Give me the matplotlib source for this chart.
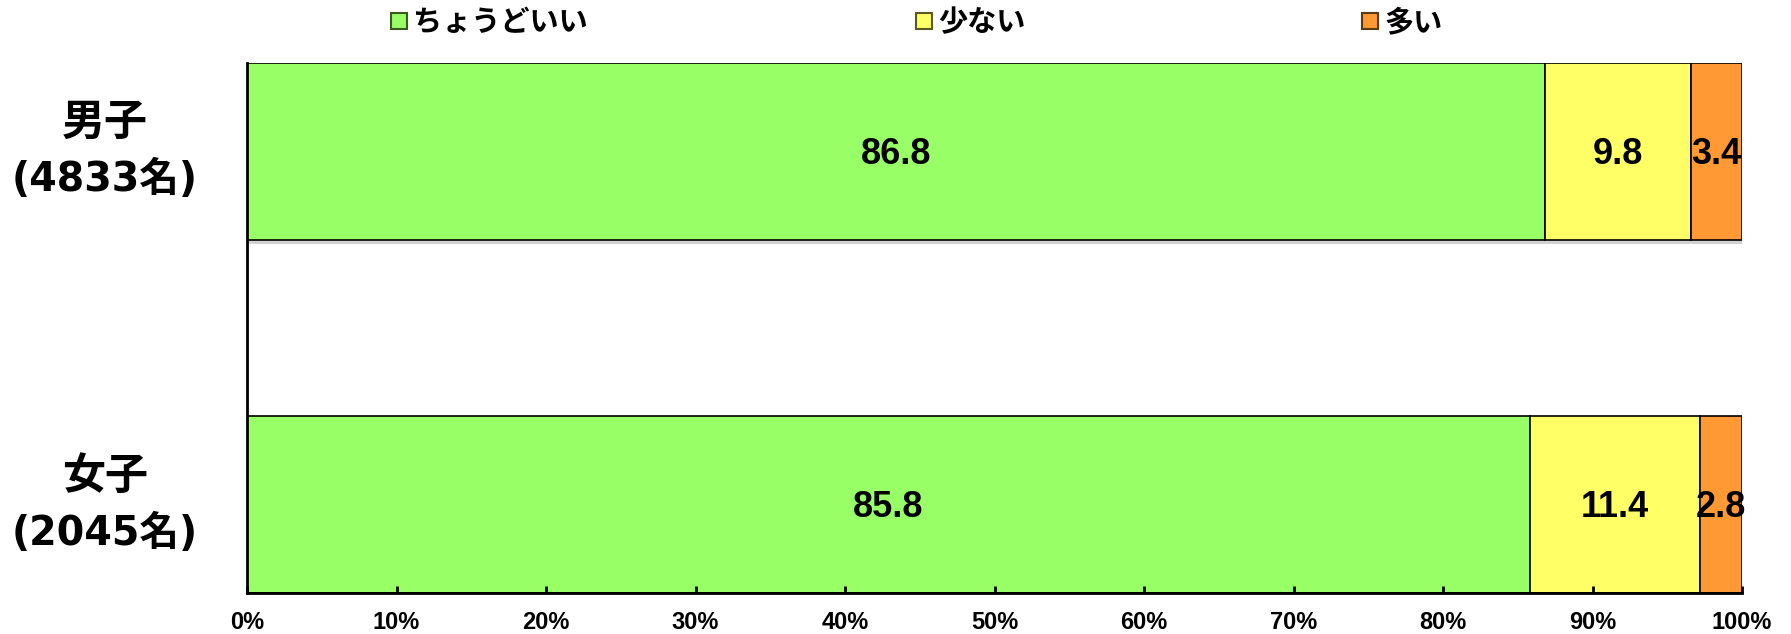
import matplotlib
matplotlib.use("Agg")
import matplotlib.pyplot as plt
from matplotlib.patches import Rectangle
from matplotlib import patheffects as pe
import numpy as np

plt.rcParams['font.family'] = ['Liberation Sans', 'Noto Sans CJK JP', 'DejaVu Sans']

# Data
groups = ["女子", "男子"]
group_counts = [2045, 4833]
series_names = ["ちょうどいい", "少ない", "多い"]
just_right = [85.8, 86.8]
too_few = [11.4, 9.8]
too_many = [2.8, 3.4]
series_values = [just_right, too_few, too_many]
series_colors = ["#99FF66", "#FFFF66", "#FF9933"]
legend_edges = ["#3a5a20", "#5a5a20", "#5a3a10"]
xtick_labels = ["0%", "10%", "20%", "30%", "40%", "50%", "60%", "70%", "80%", "90%", "100%"]

W, H = 1791, 634
fig = plt.figure(figsize=(W / 100, H / 100), dpi=100)
ax = fig.add_axes([247 / W, 1 - 593 / H, (1742 - 247) / W, (593 - 63) / H])

ypos = np.arange(len(groups))
bar_h = 0.5
left = np.zeros(len(groups))
shadow = [pe.SimplePatchShadow(offset=(0.5, -3), shadow_rgbFace="gray", alpha=0.35), pe.Normal()]
for vals, color in zip(series_values, series_colors):
    vals = np.array(vals)
    bars = ax.barh(ypos, vals, left=left, height=bar_h, color=color,
                   edgecolor="black", linewidth=1.2)
    for b in bars:
        b.set_path_effects(shadow)
    for y, l, v in zip(ypos, left, vals):
        ax.annotate(f"{v:.1f}", xy=(l + v / 2, y), xytext=(0, -3),
                    textcoords="offset pixels", ha="center", va="center",
                    fontsize=26, fontweight="bold", color="black",
                    family=['Liberation Sans'])
    left = left + vals

ax.set_xlim(0, 100)
ax.set_ylim(-bar_h / 2, len(groups) - 1 + bar_h / 2)
ax.set_xticks(np.arange(0, 101, 10))
ax.set_xticklabels(xtick_labels, fontsize=17, fontweight="bold")
ax.set_yticks([])
ax.tick_params(axis="x", direction="in", length=5, width=2, pad=13)
for s in ["top", "right"]:
    ax.spines[s].set_visible(False)
for s in ["left", "bottom"]:
    ax.spines[s].set_linewidth(2)

# Category labels on the left
for y, name, cnt in zip(ypos, groups, group_counts):
    ax.annotate(name, xy=(105 / W, y), xycoords=("figure fraction", "data"),
                xytext=(0, 29), textcoords="offset pixels",
                ha="center", va="center", fontsize=31, fontweight="bold",
                family=['Noto Sans CJK JP'])
    ax.annotate(f"({cnt}名)", xy=(105 / W, y), xycoords=("figure fraction", "data"),
                xytext=(0, -29), textcoords="offset pixels",
                ha="center", va="center", fontsize=28.5, fontweight="bold",
                family=['DejaVu Sans', 'Noto Sans CJK JP'])

# Legend row across the top
legend_x = [391, 916, 1362]
for x0, name, fc, ec in zip(legend_x, series_names, series_colors, legend_edges):
    fig.patches.append(Rectangle((x0 / W, 1 - 29 / H), 16 / W, 16 / H,
                                 transform=fig.transFigure, facecolor=fc,
                                 edgecolor=ec, linewidth=1.5))
    fig.text((x0 + 22) / W, 1 - 22 / H, name, ha="left", va="center",
             fontsize=21, fontweight="bold", family=['Noto Sans CJK JP'])

fig.savefig("out.png", dpi=100)
